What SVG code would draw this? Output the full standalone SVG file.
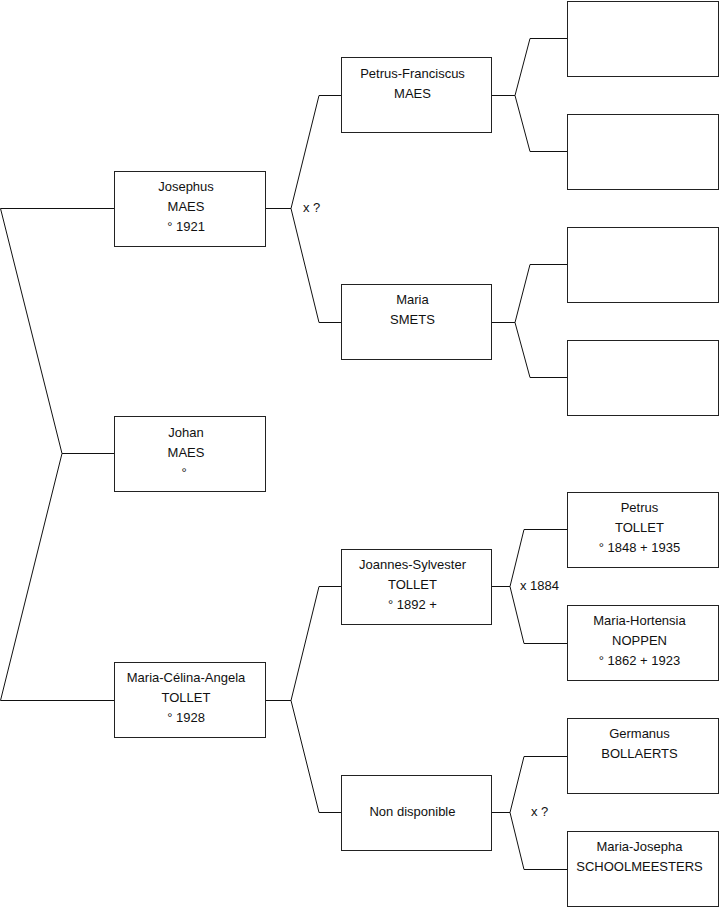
<svg xmlns="http://www.w3.org/2000/svg" width="719" height="908" viewBox="0 0 719 908">
<style>
rect.box{fill:#fff;stroke:#222;stroke-width:1}
path.c{fill:none;stroke:#111;stroke-width:1}
text{font-family:"Liberation Sans",Arial,sans-serif;font-size:13px;fill:#111}
text.t{text-anchor:middle}
</style>
<rect width="719" height="908" fill="#fff"/>
<g id="connectors">
<path class="c" d="M0.5,208.5H114.5M0.5,208.5L62,453.5L0.5,700.5H114.5M62,453.5H114.5"/>
<path class="c" d="M265,208.5H291M341,95.5H319L291,208.5L319,322.5H341"/>
<path class="c" d="M265,700.5H291M341,586.5H319L291,700.5L319,812.5H341"/>
<path class="c" d="M491,95.5H515M567,38.5H530L515,95.5L530,151.5H567"/>
<path class="c" d="M491,322.5H515M567,264.5H530L515,322.5L530,377.5H567"/>
<path class="c" d="M491,586.5H510M567,529.5H524L510,586.5L524,643.5H567"/>
<path class="c" d="M491,812.5H510M567,756.5H524L510,812.5L524,869.5H567"/>
<text x="303" y="212">x ?</text>
<text x="520" y="590">x 1884</text>
<text x="531" y="816">x ?</text>
</g>
<g id="josephus"><rect class="box" x="114.5" y="171.5" width="151" height="75"/>
<text class="t" x="186" y="191">Josephus</text><text class="t" x="186" y="211">MAES</text><text class="t" x="186" y="231">° 1921</text></g>
<g id="johan"><rect class="box" x="114.5" y="416.5" width="151" height="75"/>
<text class="t" x="186" y="437">Johan</text><text class="t" x="186" y="457">MAES</text><text class="t" x="184" y="477">°</text></g>
<g id="maria-celina"><rect class="box" x="114.5" y="662.5" width="151" height="75"/>
<text class="t" x="186" y="682">Maria-Célina-Angela</text><text class="t" x="186" y="702">TOLLET</text><text class="t" x="186" y="722">° 1928</text></g>
<g id="petrus-franciscus"><rect class="box" x="341.5" y="57.5" width="150" height="75"/>
<text class="t" x="412.5" y="78">Petrus-Franciscus</text><text class="t" x="412.5" y="98">MAES</text></g>
<g id="maria-smets"><rect class="box" x="341.5" y="284.5" width="150" height="75"/>
<text class="t" x="412.5" y="304">Maria</text><text class="t" x="412.5" y="324">SMETS</text></g>
<g id="joannes"><rect class="box" x="341.5" y="549.5" width="150" height="75"/>
<text class="t" x="412.5" y="569">Joannes-Sylvester</text><text class="t" x="412.5" y="589">TOLLET</text><text class="t" x="412.5" y="609">° 1892 +</text></g>
<g id="non-disponible"><rect class="box" x="341.5" y="775.5" width="150" height="75"/>
<text class="t" x="412.5" y="816">Non disponible</text></g>
<g id="empty1"><rect class="box" x="567.5" y="1.5" width="151" height="75"/></g>
<g id="empty2"><rect class="box" x="567.5" y="114.5" width="151" height="75"/></g>
<g id="empty3"><rect class="box" x="567.5" y="227.5" width="151" height="75"/></g>
<g id="empty4"><rect class="box" x="567.5" y="340.5" width="151" height="75"/></g>
<g id="petrus"><rect class="box" x="567.5" y="492.5" width="151" height="75"/>
<text class="t" x="639.5" y="512">Petrus</text><text class="t" x="639.5" y="532">TOLLET</text><text class="t" x="639.5" y="552">° 1848 + 1935</text></g>
<g id="maria-hortensia"><rect class="box" x="567.5" y="605.5" width="151" height="75"/>
<text class="t" x="639.5" y="625">Maria-Hortensia</text><text class="t" x="639.5" y="645">NOPPEN</text><text class="t" x="639.5" y="665">° 1862 + 1923</text></g>
<g id="germanus"><rect class="box" x="567.5" y="718.5" width="151" height="75"/>
<text class="t" x="639.5" y="738">Germanus</text><text class="t" x="639.5" y="758">BOLLAERTS</text></g>
<g id="maria-josepha"><rect class="box" x="567.5" y="831.5" width="151" height="75"/>
<text class="t" x="639.5" y="851">Maria-Josepha</text><text class="t" x="639.5" y="871">SCHOOLMEESTERS</text></g>
</svg>
